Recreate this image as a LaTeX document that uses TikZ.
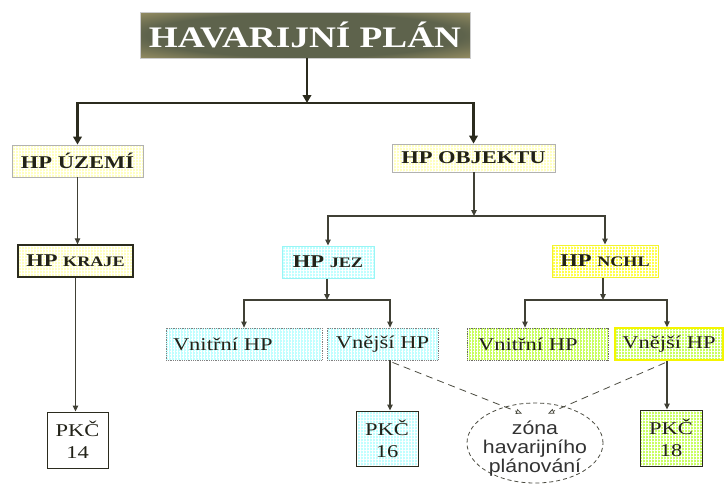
\documentclass[tikz,border=0pt]{standalone}
\usepackage{fontspec}
\setmainfont{Liberation Serif}[FakeStretch=1.25]
\newfontfamily\zonefont{Liberation Sans}[FakeStretch=1.15]
\usetikzlibrary{arrows.meta,shapes.geometric,patterns.meta,calc}

\definecolor{ink}{HTML}{2B2B1E}
\definecolor{textdark}{HTML}{222218}
\definecolor{paleyellow}{HTML}{FFFFC0}
\definecolor{palecyan}{HTML}{C0FFFF}
\definecolor{cyanedge}{HTML}{99F5F5}
\definecolor{brightyellow}{HTML}{FFFF4A}
\definecolor{yellowedge}{HTML}{F2F230}
\definecolor{lime}{HTML}{C8FF60}
\definecolor{limeedge}{HTML}{F5F500}
\definecolor{olivecore}{HTML}{5E634C}
\definecolor{tanrim}{HTML}{F7D98A}

% soft glow behind the main heading
\pgfdeclareradialshading{titleglow}{\pgfpoint{0bp}{0bp}}{%
  color(0bp)=(olivecore); color(24bp)=(olivecore);
  color(56bp)=(tanrim); color(80bp)=(tanrim)}

\tikzset{
  box/.style={rectangle, inner sep=0pt, align=center, text=textdark},
  % fill and fine white grid go underneath, the border is drawn on top
  textured/.style={preaction={fill=#1},
    preaction={pattern={Hatch[angle=0,distance=3pt,line width=0.5pt]},
               pattern color=white, fill opacity=0.45}},
  headfont/.style={font=\fontsize{18}{20}\selectfont\bfseries},
  plainfont/.style={font=\fontsize{18}{22}\selectfont},
  trunk/.style={line width=2.8pt, draw=ink, line join=miter,
    -{Triangle[length=8pt,width=8.5pt]}},
  branch/.style={line width=1.1pt, draw=ink!90,
    -{Triangle[length=6pt,width=5.5pt]}},
  zoneflow/.style={line width=0.8pt, draw=ink!85, dash pattern=on 7pt off 5pt,
    -{Triangle[open,length=6pt,width=5pt]}},
}

\newcommand{\smallcapsword}[1]{{\fontsize{14.5}{16}\selectfont #1}}

\begin{document}
\begin{tikzpicture}[x=1pt,y=-1pt]
\useasboundingbox (0,0) rectangle (725,483);

% heading
\node[box, shading=titleglow, draw=gray!40, line width=0.5pt,
      minimum width=330pt, minimum height=46pt, text=white,
      font=\fontsize{29.8}{31}\selectfont\bfseries]
  (title) at (305,35) {HAVARIJNÍ PLÁN};

% first level
\node[box, headfont, textured=paleyellow, draw=gray!60, line width=0.8pt,
      minimum width=131pt, minimum height=32pt] (uzemi) at (77.5,161) {HP ÚZEMÍ};
\node[box, headfont, textured=paleyellow, draw=gray!60, line width=0.8pt,
      minimum width=163pt, minimum height=28pt] (objektu) at (473.5,158) {HP OBJEKTU};

% second level
\node[box, headfont, textured=paleyellow, draw=ink, line width=1.3pt,
      minimum width=115pt, minimum height=32pt] (kraje) at (75.5,261)
  {HP \smallcapsword{KRAJE}};
\node[box, headfont, textured=palecyan, draw=cyanedge, line width=1pt,
      minimum width=92pt, minimum height=32pt] (jez) at (328,262)
  {HP \smallcapsword{JEZ}};
\node[box, headfont, textured=brightyellow, draw=yellowedge, line width=1pt,
      minimum width=106pt, minimum height=32pt] (nchl) at (605,261)
  {HP \smallcapsword{NCHL}};

% third level
\node[box, plainfont, textured=palecyan, draw=gray, densely dotted, line width=0.8pt,
      minimum width=156pt, minimum height=32pt, text width=142pt, align=left]
  (vn1) at (244,344) {Vnitřní HP};
\node[box, plainfont, textured=palecyan, draw=gray, densely dotted, line width=0.8pt,
      minimum width=111pt, minimum height=32pt]
  (vn2) at (382.5,344) {Vnější HP};
\node[box, plainfont, textured=lime, draw=ink!70, densely dotted, line width=0.8pt,
      minimum width=141pt, minimum height=32pt, text width=119pt, align=left]
  (vn3) at (537.5,344) {Vnitřní HP};
\node[box, plainfont, textured=lime, draw=limeedge, line width=1.5pt,
      minimum width=108pt, minimum height=32pt]
  (vn4) at (669,344) {Vnější HP};

% crisis preparedness boxes
\node[box, plainfont, fill=white, draw=ink, line width=1pt,
      minimum width=61pt, minimum height=56pt] (pkc14) at (77.5,440) {PKČ\\14};
\node[box, plainfont, textured=palecyan, draw=ink, line width=1pt,
      minimum width=62pt, minimum height=55pt] (pkc16) at (387,438.5) {PKČ\\16};
\node[box, plainfont, textured=lime, draw=ink, line width=1pt,
      minimum width=62pt, minimum height=56pt] (pkc18) at (671,438) {PKČ\\18};

% planning zone
\node[ellipse, draw=ink!85, line width=0.8pt, dash pattern=on 4pt off 3pt,
      minimum width=136pt, minimum height=80pt, inner sep=0pt]
  (zona) at (535,443) {};
\node[align=center, text=black!80, inner sep=0pt,
      font=\zonefont\fontsize{18.5}{19}\selectfont]
  (zonatext) at (535,449) {zóna\\havarijního\\plánování};

% heading fan-out
\coordinate (hub1) at (307,103);
\draw[trunk] (title.south -| hub1) -- (hub1);
\draw[trunk] (hub1) -| (uzemi.north);
\draw[trunk] (hub1) -| (objektu.north);

% territorial branch
\draw[branch] (uzemi.south) -- (uzemi.south |- kraje.north);
\draw[branch] (kraje.south) -- (kraje.south |- pkc14.north);

% object branch
\coordinate (hub2) at (474,216);
\draw[branch] (objektu.south -| hub2) -- (hub2);
\draw[branch] (hub2) -| (jez.north);
\draw[branch] (hub2) -| (nchl.north);

\coordinate (hub3) at (327,300);
\coordinate (vn2in) at ($(vn2.north)+(7.5,0)$);
\draw[branch] (jez.south -| hub3) -- (hub3);
\draw[branch] (hub3) -| (vn1.north);
\draw[branch] (hub3) -| (vn2in);

\coordinate (hub4) at (603,300);
\coordinate (vn3in) at ($(vn3.north)+(-12.5,0)$);
\coordinate (vn4in) at ($(vn4.north)+(-2,0)$);
\draw[branch] (nchl.south -| hub4) -- (hub4);
\draw[branch] (hub4) -| (vn3in);
\draw[branch] (hub4) -| (vn4in);

% external plans to their crisis boxes
\draw[branch] (vn2.south -| vn2in) -- (vn2in |- pkc16.north);
\draw[branch] (vn4.south -| vn4in) -- (vn4in |- pkc18.north);

% external plans feeding the planning zone
\draw[zoneflow] ($(vn2.south)+(10,2)$) -- ($(zona.north)+(-13,11)$);
\draw[zoneflow] ($(vn4.south)+(-4,2)$) -- ($(zona.north)+(13,11)$);
\end{tikzpicture}
\end{document}
